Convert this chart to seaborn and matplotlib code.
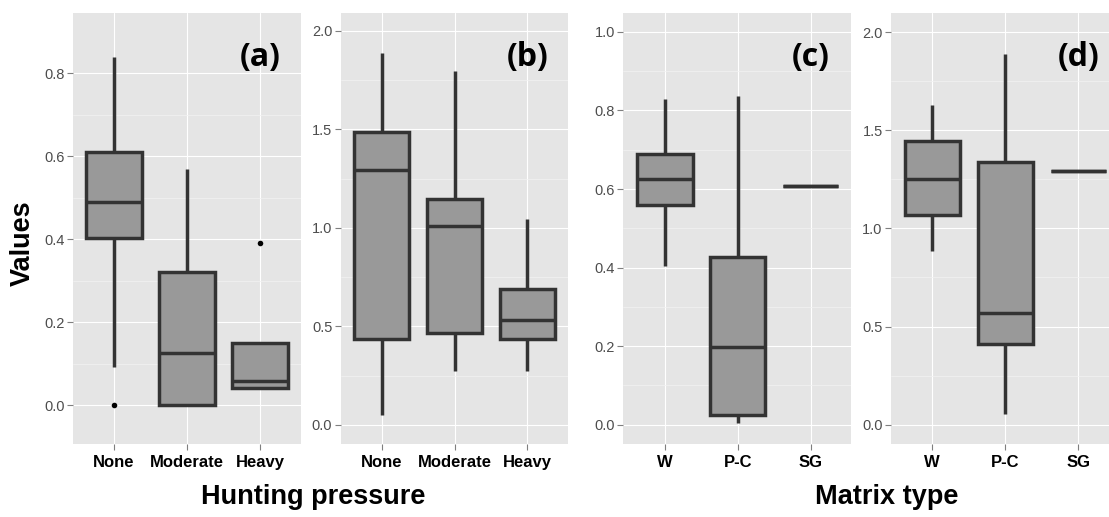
import numpy as np
import matplotlib
matplotlib.use("Agg")
import matplotlib.pyplot as plt
import pandas as pd
import seaborn as sns

# five-number summaries: [min, q1, median, q3, max]
hunting = ["None", "Moderate", "Heavy"]
matrix = ["W", "P-C", "SG"]

a_none = [0.092, 0.402, 0.490, 0.611, 0.839]
a_moderate = [0.0, 0.0, 0.126, 0.321, 0.568]
a_heavy = [0.040, 0.040, 0.058, 0.150, 0.150]
a_outliers = {"None": [0.0], "Heavy": [0.391]}

b_none = [0.052, 0.437, 1.292, 1.487, 1.888]
b_moderate = [0.276, 0.465, 1.009, 1.148, 1.797]
b_heavy = [0.276, 0.437, 0.530, 0.689, 1.047]

c_w = [0.403, 0.559, 0.625, 0.688, 0.829]
c_pc = [0.004, 0.025, 0.197, 0.428, 0.837]
c_sg = [0.608, 0.608, 0.608, 0.608, 0.608]

d_w = [0.886, 1.068, 1.252, 1.445, 1.628]
d_pc = [0.054, 0.410, 0.571, 1.336, 1.888]
d_sg = [1.291, 1.291, 1.291, 1.291, 1.291]

yticks_a = [0.0, 0.2, 0.4, 0.6, 0.8]
yticks_b = [0.0, 0.5, 1.0, 1.5, 2.0]
yticks_c = [0.0, 0.2, 0.4, 0.6, 0.8, 1.0]
yticks_d = [0.0, 0.5, 1.0, 1.5, 2.0]


def long_frame(cats, groups):
    # a 5-value sample gives back exactly q1/median/q3 with linear percentiles
    rows = []
    for cat, vals in zip(cats, groups):
        for v in vals:
            rows.append({"group": cat, "value": v})
    return pd.DataFrame(rows)


sns.set_theme(style="darkgrid")
plt.rcParams["font.family"] = ["Liberation Sans", "DejaVu Sans"]
plt.rcParams["text.color"] = "black"

fig = plt.figure(figsize=(11.09, 5.17), dpi=100)
H = 517.0
W = 1109.0
bottom = (H - 444) / H
height = 431 / H
panels = [
    # left px, width px, cats, groups, yticks, ylim, xlim, label, outliers
    (73, 228, hunting, [a_none, a_moderate, a_heavy], yticks_a, (-0.094, 0.945), (-0.56, 2.56), "(a)", a_outliers),
    (340.7, 227.6, hunting, [b_none, b_moderate, b_heavy], yticks_b, (-0.097, 2.091), (-0.56, 2.56), "(b)", {}),
    (623.3, 227.4, matrix, [c_w, c_pc, c_sg], yticks_c, (-0.049, 1.048), (-0.57, 2.55), "(c)", {}),
    (891, 218, matrix, [d_w, d_pc, d_sg], yticks_d, (-0.098, 2.097), (-0.566, 2.42), "(d)", {}),
]

edge = "#333333"
for left, width, cats, groups, yt, ylim, xlim, label, outl in panels:
    ax = fig.add_axes([left / W, bottom, width / W, height])
    df = long_frame(cats, groups)
    sns.boxplot(data=df, x="group", y="value", order=cats, ax=ax,
                color="#999999", saturation=1, linecolor=edge, linewidth=2.5,
                width=0.76, whis=(0, 100), showfliers=False,
                capprops={"visible": False})
    if outl:
        ox = [k for k, vs in outl.items() for v in vs]
        oy = [v for k, vs in outl.items() for v in vs]
        sns.stripplot(x=ox, y=oy, order=cats, ax=ax, jitter=False,
                      color="black", size=4, zorder=5)
    ax.set_facecolor("#E5E5E5")
    ax.set_xlim(*xlim)
    ax.set_ylim(*ylim)
    ax.set_yticks(yt)
    ax.set_yticklabels([f"{t:.1f}" for t in yt])
    minor = [(yt[i] + yt[i + 1]) / 2 for i in range(len(yt) - 1)]
    ax.set_yticks(minor, minor=True)
    ax.grid(which="major", color="white", linewidth=0.8)
    ax.grid(which="minor", axis="y", color="#F2F2F2", linewidth=0.5)
    ax.set_axisbelow(True)
    for s in ax.spines.values():
        s.set_visible(False)
    ax.tick_params(axis="y", which="major", length=4, width=0.8, color="#7F7F7F",
                   labelsize=10.5, labelcolor="#4D4D4D", pad=2, left=True)
    ax.tick_params(axis="y", which="minor", length=0)
    ax.tick_params(axis="x", length=4, width=0.8, color="#7F7F7F",
                   labelsize=12, labelcolor="black", pad=4, bottom=True)
    for t in ax.get_xticklabels():
        t.set_fontweight("bold")
    ax.set_xlabel("")
    ax.set_ylabel("")
    ax.text(2, 0.897, label, transform=ax.get_xaxis_transform(),
            ha="center", va="center", fontsize=23, fontweight="bold",
            color="black", family=["Open Sans", "DejaVu Sans"])

fig.text(23 / W, 1 - 243 / H, "Values", rotation=90, ha="center", va="center",
         fontsize=19.5, fontweight="bold", color="black")
fig.text(313 / W, 1 - 497 / H, "Hunting pressure", ha="center", va="center",
         fontsize=19.5, fontweight="bold", color="black")
fig.text(887 / W, 1 - 497 / H, "Matrix type", ha="center", va="center",
         fontsize=19.5, fontweight="bold", color="black")

fig.savefig("out.png", dpi=100, facecolor="white")
